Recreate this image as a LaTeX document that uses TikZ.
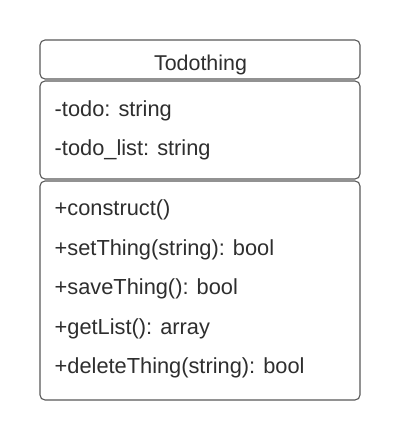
\documentclass[tikz,border=0pt]{standalone}
\usepackage{fontspec}
\setmainfont{Liberation Sans}
\begin{document}
\begin{tikzpicture}[x=1pt,y=-1pt,
  umlbox/.style={draw=black!65,line width=1.1pt,rounded corners=5pt,fill=white},
  txt/.style={anchor=base west,inner sep=0pt,text=black!82,font=\fontsize{21.8}{24}\selectfont},
  ttl/.style={anchor=base,inner sep=0pt,text=black!82,font=\fontsize{21.4}{24}\selectfont}]
\useasboundingbox (0,0) rectangle (400,442);
\fill[white] (0,0) rectangle (400,442);
\draw[umlbox] (40,40) rectangle (360,79);
\draw[umlbox] (40,81) rectangle (360,179);
\draw[umlbox] (40,181) rectangle (360,400);
\node[ttl] (title) at (200.5,70.5) {Todothing};
\node[txt] (a1) at (54.5,116) {-todo: string};
\node[txt] (a2) at (54.5,155.5) {-todo\_list: string};
\node[txt] (m1) at (54.5,215.5) {+construct()};
\node[txt] (m2) at (54.5,255) {+setThing(string): bool};
\node[txt] (m3) at (54.5,294.5) {+saveThing(): bool};
\node[txt] (m4) at (54.5,334) {+getList(): array};
\node[txt] (m5) at (54.5,373.5) {+deleteThing(string): bool};
\end{tikzpicture}
\end{document}
